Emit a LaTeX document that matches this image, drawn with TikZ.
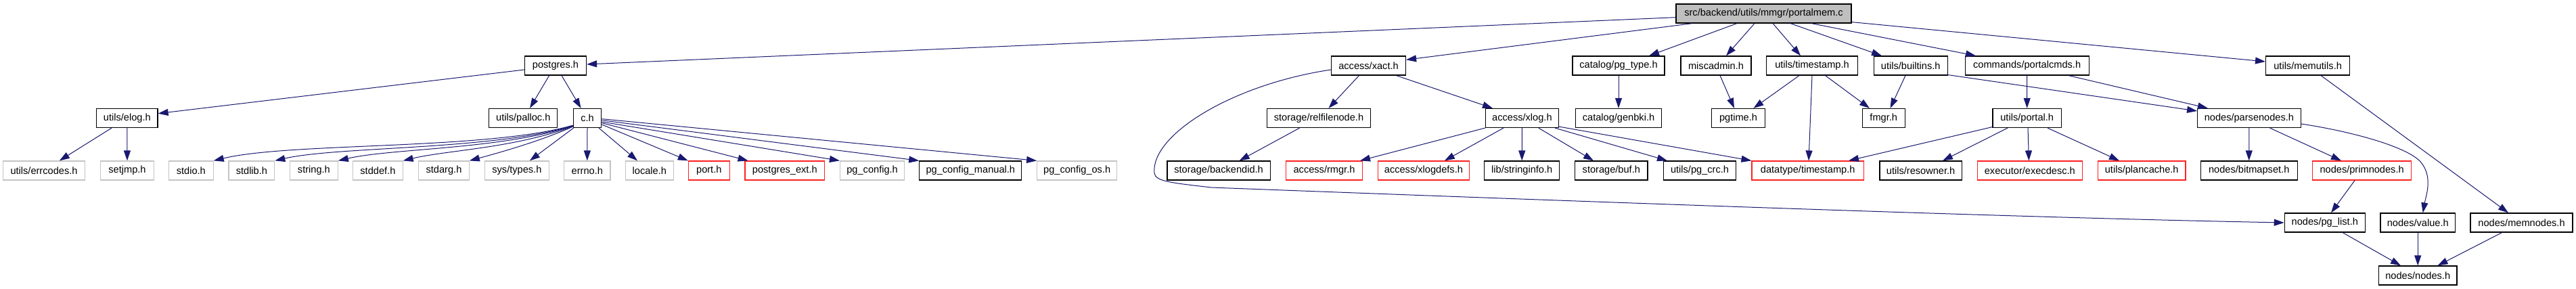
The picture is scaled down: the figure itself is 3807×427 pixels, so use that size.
\documentclass[tikz,border=0pt]{standalone}
\usepackage{fontspec}
\newfontfamily\graphfont{Liberation Sans}
\usetikzlibrary{arrows.meta}
\definecolor{edgeblue}{HTML}{191970}
\definecolor{rootgray}{HTML}{BFBFBF}
\definecolor{sysgray}{HTML}{C4C4C4}
\definecolor{truncred}{HTML}{FF2020}
\tikzset{
  hdr/.style={draw=black, line width=1.2pt, minimum height=28pt, inner sep=0pt,
    font=\graphfont\fontsize{14.6pt}{17pt}\selectfont},
  sys/.style={hdr, draw=sysgray},
  trn/.style={hdr, draw=truncred},
  rootn/.style={hdr, fill=rootgray},
  edge/.style={draw=edgeblue, line width=1pt, -{Triangle[length=15pt,width=10pt]}, edgeblue}
}
\begin{document}
\begin{tikzpicture}[x=1pt,y=-1pt]
\fill[white] (0,0) rectangle (3807,427);
\useasboundingbox (0,0) rectangle (3807,427);
% row 1
\node[rootn, minimum width=259pt] (root) at (2606.5,20) {src/backend/utils/mmgr/portalmem.c};
% row 2
\node[hdr, minimum width=91pt] (postgres) at (821,97) {postgres.h};
\node[hdr, minimum width=110pt] (xact) at (2022.5,97) {access/xact.h};
\node[hdr, minimum width=136pt] (pgtype) at (2392,97) {catalog/pg\_type.h};
\node[hdr, minimum width=104pt] (miscadmin) at (2536,97) {miscadmin.h};
\node[hdr, minimum width=135pt] (utimestamp) at (2678,97) {utils/timestamp.h};
\node[hdr, minimum width=109pt] (builtins) at (2823.7,97) {utils/builtins.h};
\node[hdr, minimum width=183pt] (portalcmds) at (2995.6,97) {commands/portalcmds.h};
\node[hdr, minimum width=124pt] (memutils) at (3410.6,97) {utils/memutils.h};
% row 3
\node[hdr, minimum width=90.5pt] (elog) at (187.8,174.5) {utils/elog.h};
\node[hdr, minimum width=101pt] (palloc) at (773.3,174.5) {utils/palloc.h};
\node[hdr, minimum width=41.6pt] (ch) at (868,174.5) {c.h};
\node[hdr, minimum width=153.6pt] (relfilenode) at (1949,174.5) {storage/relfilenode.h};
\node[hdr, minimum width=108pt] (xlog) at (2249.4,174.5) {access/xlog.h};
\node[hdr, minimum width=127pt] (genbki) at (2392,174.5) {catalog/genbki.h};
\node[hdr, minimum width=79pt] (pgtime) at (2569,174.5) {pgtime.h};
\node[hdr, minimum width=63pt] (fmgr) at (2783.7,174.5) {fmgr.h};
\node[hdr, minimum width=101.6pt] (portal) at (2995.7,174.5) {utils/portal.h};
\node[hdr, minimum width=152.5pt] (parsenodes) at (3323.9,174.5) {nodes/parsenodes.h};
% row 4
\node[sys, minimum width=120.4pt] (errcodes) at (65,252) {utils/errcodes.h};
\node[sys, minimum width=78.8pt] (setjmp) at (188,252) {setjmp.h};
\node[sys, minimum width=65.7pt] (stdio) at (282.3,252) {stdio.h};
\node[sys, minimum width=67.7pt] (stdlib) at (371.9,252) {stdlib.h};
\node[sys, minimum width=70.6pt] (string) at (463.9,252) {string.h};
\node[sys, minimum width=73.4pt] (stddef) at (558.4,252) {stddef.h};
\node[sys, minimum width=74.5pt] (stdarg) at (656,252) {stdarg.h};
\node[sys, minimum width=94.7pt] (systypes) at (763.9,252) {sys/types.h};
\node[sys, minimum width=68.2pt] (errno) at (867.8,252) {errno.h};
\node[sys, minimum width=71pt] (locale) at (959.8,252) {locale.h};
\node[trn, minimum width=60.8pt] (port) at (1047.8,252) {port.h};
\node[trn, minimum width=117.6pt] (pgext) at (1159.8,252) {postgres\_ext.h};
\node[sys, minimum width=95.2pt] (pgconfig) at (1289.1,252) {pg\_config.h};
\node[hdr, minimum width=151pt] (pgmanual) at (1434.3,252) {pg\_config\_manual.h};
\node[sys, minimum width=118pt] (pgos) at (1591.7,252) {pg\_config\_os.h};
\node[hdr, minimum width=152.2pt] (backendid) at (1801.1,252) {storage/backendid.h};
\node[trn, minimum width=112.7pt] (rmgr) at (1957,252) {access/rmgr.h};
\node[trn, minimum width=134.7pt] (xlogdefs) at (2103.9,252) {access/xlogdefs.h};
\node[hdr, minimum width=111pt] (stringinfo) at (2249.2,252) {lib/stringinfo.h};
\node[hdr, minimum width=107.4pt] (buf) at (2381.3,252) {storage/buf.h};
\node[hdr, minimum width=106.7pt] (pgcrc) at (2512,252) {utils/pg\_crc.h};
\node[trn, minimum width=165.3pt] (dtimestamp) at (2671.7,252) {datatype/timestamp.h};
\node[hdr, minimum width=121.2pt] (resowner) at (2838.6,252) {utils/resowner.h};
\node[trn, minimum width=154.8pt] (execdesc) at (2999.8,252) {executor/execdesc.h};
\node[trn, minimum width=129.6pt] (plancache) at (3165.2,252) {utils/plancache.h};
\node[hdr, minimum width=142.9pt] (bitmapset) at (3323.7,252) {nodes/bitmapset.h};
\node[trn, minimum width=145.8pt] (primnodes) at (3490.6,252) {nodes/primnodes.h};
% row 5
\node[hdr, minimum width=119pt] (pglist) at (3435.8,329) {nodes/pg\_list.h};
\node[hdr, minimum width=110.6pt] (value) at (3573.2,329) {nodes/value.h};
\node[hdr, minimum width=151pt] (memnodes) at (3726.5,329) {nodes/memnodes.h};
% row 6
\node[hdr, minimum width=115.6pt] (nodesh) at (3573.2,407) {nodes/nodes.h};

% edges from root
\draw[edge] ([yshift=-5.7pt]root.west) -- ([yshift=2pt]postgres.east);
\draw[edge] ([xshift=-105.5pt]root.south) -- ([yshift=8.7pt]xact.east);
\draw[edge] ([xshift=-39.5pt]root.south) -- ([xshift=45pt]pgtype.north);
\draw[edge] ([xshift=-13.5pt]root.south) -- ([xshift=15pt]miscadmin.north);
\draw[edge] ([xshift=13.5pt]root.south) -- ([xshift=-17pt]utimestamp.north);
\draw[edge] ([xshift=39.5pt]root.south) -- ([xshift=-42.7pt]builtins.north);
\draw[edge] ([xshift=70.5pt]root.south) -- ([xshift=-75.6pt]portalcmds.north);
\draw[edge] ([yshift=2pt]root.south east) -- ([yshift=6pt]memutils.west);
% postgres.h
\draw[edge] ([yshift=-6pt]postgres.west) -- ([yshift=6.8pt]elog.east);
\draw[edge] ([xshift=-9.3pt]postgres.south) -- ([xshift=9.7pt]palloc.north);
\draw[edge] ([xshift=9pt]postgres.south) -- ([xshift=-9.4pt]ch.north);
% elog
\draw[edge] ([xshift=-22.8pt]elog.south) -- ([xshift=22.8pt]errcodes.north);
\draw[edge] (elog.south) -- (setjmp.north);
% c.h
\draw[edge] ([yshift=4pt]ch.south west) .. controls (720,222) and (430,210) .. (stdio.north east);
\draw[edge] ([yshift=3.5pt]ch.south west) .. controls (730,222) and (500,216) .. (stdlib.north east);
\draw[edge] ([yshift=3pt]ch.south west) .. controls (740,221) and (580,219) .. (string.north east);
\draw[edge] ([yshift=2.5pt]ch.south west) .. controls (760,219) and (660,222) .. (stddef.north east);
\draw[edge] ([yshift=2pt]ch.south west) .. controls (800,208) and (740,225) .. (stdarg.north east);
\draw[edge] ([xshift=1pt]ch.south west) -- ([xshift=19pt]systypes.north);
\draw[edge] (ch.south) -- (errno.north);
\draw[edge] ([xshift=17pt]ch.south) -- ([xshift=-17.8pt]locale.north);
\draw[edge] ([yshift=-9.5pt]ch.east) -- (port.north west);
\draw[edge] ([yshift=-7.2pt]ch.east) -- ([xshift=-54.2pt]pgext.north);
\draw[edge] ([yshift=-5.5pt]ch.east) -- (pgconfig.north west);
\draw[edge] ([yshift=-3.2pt]ch.east) -- (pgmanual.north west);
\draw[edge] ([yshift=-1.2pt]ch.east) -- (pgos.north west);
% xact
\draw[edge] ([xshift=-14pt]xact.south) -- ([xshift=14.5pt]relfilenode.north);
\draw[edge] ([xshift=41pt]xact.south) -- ([xshift=-43.4pt]xlog.north);
\draw[edge] ([yshift=-6pt]xact.west) .. controls (1820,125) and (1700,200) .. (1706,256)
  .. controls (1708,268) and (1730,270) .. (1790,277)
  .. controls (2400,300) and (3000,322) .. (pglist.west);
\draw[edge] ([xshift=-28.4pt]relfilenode.south) -- ([xshift=30.5pt]backendid.north);
% xlog
\draw[edge] (xlog.south west) -- ([xshift=53pt]rmgr.north);
\draw[edge] ([xshift=-27.4pt]xlog.south) -- ([xshift=31pt]xlogdefs.north);
\draw[edge] (xlog.south) -- (stringinfo.north);
\draw[edge] ([xshift=24.4pt]xlog.south) -- ([xshift=-26.3pt]buf.north);
\draw[edge] ([xshift=48.6pt]xlog.south) -- ([xshift=-48pt]pgcrc.north);
\draw[edge] ([yshift=2pt]xlog.south east) -- (dtimestamp.north west);
% catalog, misc, timestamp, builtins
\draw[edge] (pgtype.south) -- (genbki.north);
\draw[edge] ([xshift=6pt]miscadmin.south) -- ([xshift=-6pt]pgtime.north);
\draw[edge] ([xshift=-19pt]utimestamp.south) -- ([xshift=22.4pt]pgtime.north);
\draw[edge] (utimestamp.south) -- ([xshift=1.3pt]dtimestamp.north);
\draw[edge] ([xshift=19.5pt]utimestamp.south) -- ([xshift=-20.7pt]fmgr.north);
\draw[edge] ([xshift=-7.7pt]builtins.south) -- ([xshift=9.8pt]fmgr.north);
\draw[edge] ([yshift=1pt]builtins.south east) -- ([yshift=10.5pt]parsenodes.west);
% portalcmds, portal
\draw[edge] (portalcmds.south) -- (portal.north);
\draw[edge] ([xshift=61.4pt]portalcmds.south) -- ([xshift=-61pt]parsenodes.north);
\draw[edge] ([yshift=1.5pt]portal.south west) -- ([xshift=60.3pt]dtimestamp.north);
\draw[edge] ([xshift=-28.7pt]portal.south) -- ([xshift=32.4pt]resowner.north);
\draw[edge] ([xshift=1.3pt]portal.south) -- ([xshift=-1.4pt]execdesc.north);
\draw[edge] ([xshift=30.3pt]portal.south) -- ([xshift=-33.2pt]plancache.north);
% memutils
\draw[edge] ([xshift=19.4pt]memutils.south) -- ([xshift=-19.5pt]memnodes.north);
% parsenodes
\draw[edge] (parsenodes.south) -- (bitmapset.north);
\draw[edge] ([xshift=30.6pt]parsenodes.south) -- ([xshift=-30.6pt]primnodes.north);
\draw[edge] ([yshift=-8.5pt]parsenodes.east) .. controls (3480,195) and (3560,218) .. (3578,240)
  .. controls (3596,262) and (3585,290) .. ([xshift=7.5pt]value.north);
\draw[edge] ([xshift=-10.6pt]primnodes.south) -- ([xshift=9.2pt]pglist.north);
% bottom
\draw[edge] ([xshift=26.2pt]pglist.south) -- ([xshift=-25.2pt]nodesh.north);
\draw[edge] (value.south) -- (nodesh.north);
\draw[edge] ([xshift=-28.9pt]memnodes.south) -- ([xshift=29.3pt]nodesh.north);
\end{tikzpicture}
\end{document}
